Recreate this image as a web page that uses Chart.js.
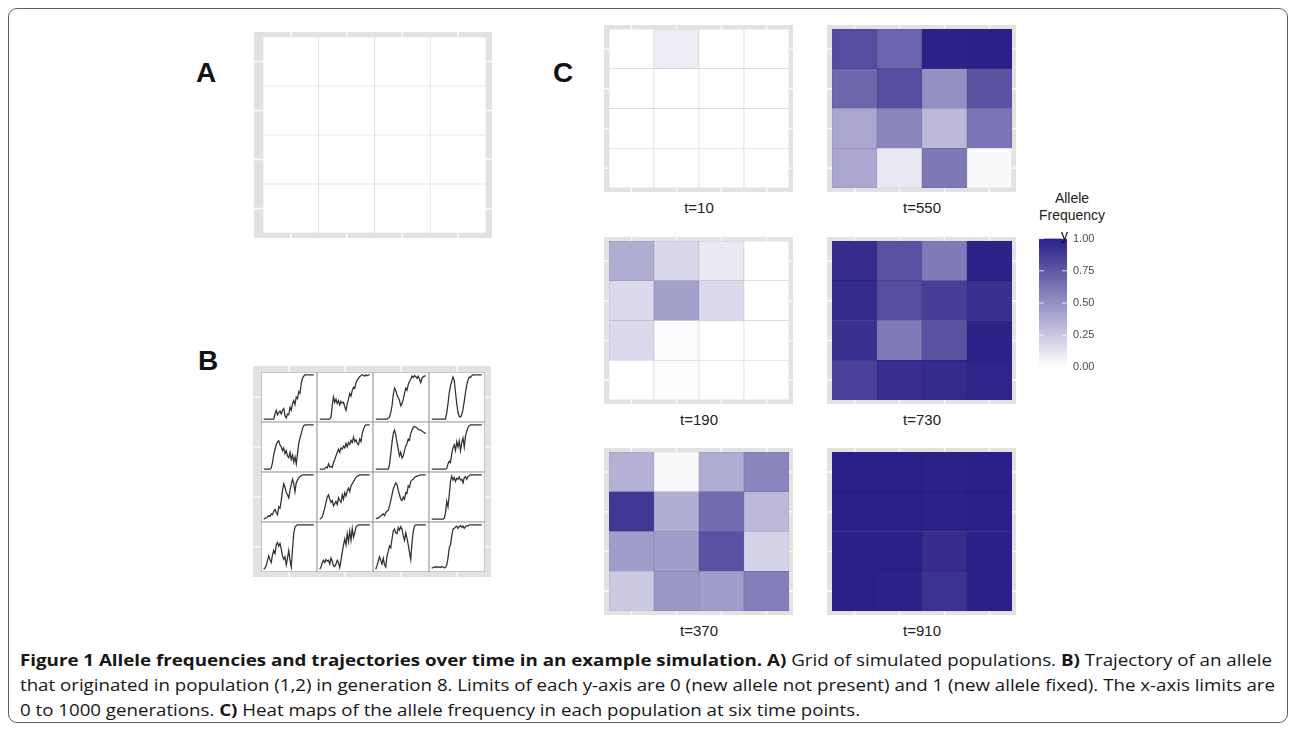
<!DOCTYPE html>
<html>
<head>
<meta charset="utf-8">
<script src="https://cdn.jsdelivr.net/npm/chart.js@4.4.1/dist/chart.umd.min.js"></script>
<style>
  body { margin: 0; width: 1290px; height: 733px; background: #fff; position: relative; overflow: hidden;
         font-family: "Liberation Sans", Arial, sans-serif; }
  .abs { position: absolute; }
  #box { left: 8px; top: 8px; width: 1278px; height: 713px; border: 1px solid #5e5e5e; border-radius: 9px; }
  .panel { font-weight: bold; font-size: 28px; line-height: 28px; color: #111; }
  .tlab { font-size: 15px; line-height: 18px; color: #222; width: 180px; text-align: center; }
  .legtitle { font-size: 14px; line-height: 17px; color: #222; width: 100px; text-align: center; }
  #caption { left: 20px; top: 648px; font-family: "Open Sans", sans-serif; font-size: 16px; line-height: 25px; color: #161616; }
  #caption .ln { display: block; width: max-content; white-space: nowrap; transform-origin: 0 0; }
</style>
</head>
<body>
<div id="box" class="abs"></div>
<div class="abs panel" style="left:196px; top:59px">A</div>
<div class="abs panel" style="left:198px; top:347px">B</div>
<div class="abs panel" style="left:553px; top:59px">C</div>

<div class="abs legtitle" style="left:1022px; top:190px">Allele</div>
<div class="abs legtitle" style="left:1022px; top:207px">Frequency</div>

<div id="caption" class="abs">
  <span class="ln"><b>Figure 1 Allele frequencies and trajectories over time in an example simulation. A)</b> Grid of simulated populations. <b>B)</b> Trajectory of an allele</span>
  <span class="ln">that originated in population (1,2) in generation 8. Limits of each y-axis are 0 (new allele not present) and 1 (new allele fixed). The x-axis limits are</span>
  <span class="ln">0 to 1000 generations. <b>C)</b> Heat maps of the allele frequency in each population at six time points.</span>
</div>

<script>
// grid columns and colour bar breaks
const columns = ['1', '2', '3', '4'];
const legendTicks = [0, 0.25, 0.5, 0.75, 1];

// allele frequency per population, top row first
const freqT10  = [[0, 0.08, 0, 0], [0, 0, 0, 0], [0, 0, 0, 0], [0, 0, 0, 0]];
const freqT190 = [[0.37, 0.18, 0.1, 0], [0.17, 0.43, 0.17, 0], [0.17, 0.02, 0, 0], [0, 0.01, 0, 0]];
const freqT370 = [[0.35, 0.03, 0.37, 0.55], [0.9, 0.36, 0.66, 0.32], [0.44, 0.44, 0.78, 0.2], [0.24, 0.47, 0.44, 0.58]];
const freqT550 = [[0.8, 0.7, 0.99, 1], [0.68, 0.8, 0.5, 0.77], [0.4, 0.55, 0.32, 0.62], [0.4, 0.1, 0.61, 0.03]];
const freqT730 = [[0.95, 0.78, 0.6, 0.99], [0.96, 0.8, 0.87, 0.93], [0.93, 0.6, 0.78, 0.99], [0.85, 0.94, 0.96, 0.98]];
const freqT910 = [[1, 1, 0.99, 1], [1, 1, 0.99, 1], [1, 1, 0.95, 1], [1, 0.99, 0.92, 1]];
const emptyGrid = [[0, 0, 0, 0], [0, 0, 0, 0], [0, 0, 0, 0], [0, 0, 0, 0]];

// generations at which the trajectories of panel B are read
const timePoints = [0, 25, 50, 75, 100, 125, 150, 175, 200, 225, 250, 275, 300, 325, 350, 375, 400, 425, 450, 475,
  500, 525, 550, 575, 600, 625, 650, 675, 700, 725, 750, 775, 800, 825, 850, 875, 900, 925, 950, 975, 1000];

// trajectory of the new allele in each population (panel B), one array per grid row
const trajRow1 = [
  [0,0,0,0,0,0,0,0,0,0.12,0.2,0.1,0.15,0.18,0.12,0.2,0.24,0.08,0.03,0.12,0.1,0.27,0.2,0.35,0.42,0.33,0.5,0.46,0.62,0.58,0.8,0.92,0.97,1,1,1,1,1,1,1,1],
  [0,0,0,0,0,0,0,0,0,0.05,0.3,0.5,0.38,0.45,0.35,0.42,0.32,0.4,0.36,0.38,0.28,0.2,0.35,0.45,0.58,0.52,0.65,0.72,0.7,0.82,0.88,0.92,0.96,0.98,1,0.99,0.97,1,0.98,1,1],
  [0,0,0,0,0,0,0,0,0,0,0.02,0.05,0.15,0.3,0.55,0.7,0.65,0.55,0.48,0.42,0.3,0.35,0.45,0.58,0.7,0.65,0.78,0.85,0.9,0.97,0.94,0.98,0.96,0.92,0.97,0.9,0.82,0.92,0.96,0.97,0.98],
  [0,0,0,0,0,0,0,0,0,0,0,0,0.15,0.35,0.6,0.75,0.85,0.95,0.88,0.6,0.35,0.15,0.06,0.05,0.1,0.22,0.4,0.6,0.78,0.88,0.95,0.94,0.98,1,1,1,1,1,1,1,1]
];
const trajRow2 = [
  [0,0,0,0,0,0,0.03,0.15,0.33,0.45,0.55,0.62,0.64,0.55,0.5,0.42,0.48,0.35,0.42,0.3,0.26,0.38,0.22,0.32,0.16,0.28,0.12,0.35,0.58,0.7,0.8,0.92,0.98,1,1,1,1,1,1,1,1],
  [0,0,0,0,0.01,0.05,0.03,0.12,0.05,0.06,0.04,0.15,0.22,0.3,0.38,0.45,0.38,0.48,0.45,0.52,0.48,0.58,0.5,0.6,0.56,0.65,0.6,0.72,0.62,0.66,0.58,0.55,0.68,0.62,0.8,0.9,0.97,1,1,1,1],
  [0,0,0,0,0,0,0,0,0,0,0,0.1,0.35,0.6,0.8,0.88,0.78,0.6,0.45,0.3,0.38,0.25,0.3,0.42,0.52,0.58,0.68,0.66,0.8,0.88,0.94,0.96,0.95,0.93,0.9,0.88,0.88,0.86,0.84,0.82,0.8],
  [0,0,0,0,0,0,0,0,0,0,0,0,0.02,0.12,0.18,0.15,0.35,0.48,0.55,0.42,0.62,0.5,0.64,0.42,0.6,0.7,0.5,0.75,0.85,0.94,0.98,1,1,1,1,1,1,1,1,1,1]
];
const trajRow3 = [
  [0,0.02,0.03,0.05,0.08,0.06,0.12,0.1,0.18,0.22,0.15,0.1,0.28,0.25,0.42,0.65,0.8,0.72,0.6,0.55,0.48,0.65,0.78,0.9,0.8,0.62,0.82,0.88,0.93,0.96,0.98,1,1,1,1,1,1,1,1,1,1],
  [0,0.02,0.05,0.15,0.25,0.38,0.5,0.55,0.45,0.38,0.42,0.3,0.35,0.4,0.33,0.48,0.42,0.38,0.55,0.45,0.6,0.52,0.64,0.7,0.62,0.75,0.8,0.84,0.9,0.94,0.97,0.98,1,1,1,1,1,1,1,1,1],
  [0.01,0.02,0.03,0.05,0.07,0.1,0.12,0.08,0.15,0.18,0.2,0.3,0.42,0.55,0.68,0.75,0.82,0.78,0.65,0.55,0.45,0.42,0.5,0.45,0.6,0.58,0.75,0.72,0.85,0.88,0.9,0.94,0.96,0.97,0.98,0.99,1,1,1,1,1],
  [0,0,0,0,0,0,0,0,0,0,0.02,0.15,0.4,0.28,0.55,0.85,0.97,0.88,0.94,0.85,0.92,0.9,0.95,0.88,0.9,0.82,0.93,0.96,0.9,0.96,0.98,1,1,1,1,1,1,1,1,1,1]
];
const trajRow4 = [
  [0,0.03,0.08,0.2,0.3,0.22,0.15,0.32,0.42,0.35,0.55,0.6,0.52,0.58,0.45,0.3,0.22,0.28,0.1,0.25,0.42,0.2,0.05,0.45,0.8,0.95,0.98,1,1,1,1,1,1,1,1,1,1,1,1,1,1],
  [0,0.05,0.15,0.2,0.15,0.22,0.18,0.2,0.12,0.25,0.18,0.08,0.06,0.12,0.2,0.15,0.04,0.2,0.38,0.55,0.68,0.55,0.8,0.62,0.86,0.65,0.92,0.72,0.82,0.95,0.98,1,1,1,1,1,1,1,1,1,1],
  [0,0.08,0.18,0.28,0.2,0.12,0.25,0.1,0.05,0.3,0.4,0.52,0.48,0.68,0.86,0.9,0.82,0.8,0.94,0.88,0.96,0.9,0.75,0.65,0.82,0.7,0.55,0.38,0.22,0.6,0.85,0.97,1,1,1,1,1,1,1,1,1],
  [0.02,0.04,0.05,0.04,0.06,0.04,0.05,0.04,0.06,0.05,0.03,0.04,0.1,0.25,0.48,0.55,0.75,0.9,0.92,0.95,0.97,0.92,0.96,0.98,0.94,0.97,0.92,0.96,0.98,0.97,1,1,1,1,1,1,1,1,1,1,1]
];

const heatLow = [255, 255, 255];
const heatHigh = [42, 33, 136];

function heatRgb(v) {
  return heatLow.map((lo, k) => Math.round(lo + (heatHigh[k] - lo) * v));
}
function heatColor(v) {
  const c = heatRgb(v);
  return `rgb(${c[0]}, ${c[1]}, ${c[2]})`;
}
// tile outline: a darker shade of the tile itself
function tileEdge(v) {
  const c = heatRgb(v).map(x => Math.round(x * 0.8));
  return `rgb(${c[0]}, ${c[1]}, ${c[2]})`;
}

// grey ggplot-like panel background with white marks at the cell centres
const framePlugin = {
  id: 'frame',
  beforeDraw(chart) {
    const { ctx, chartArea: a, width, height, scales } = chart;
    ctx.save();
    ctx.fillStyle = '#e2e2e2';
    ctx.fillRect(0, 0, width, height);
    ctx.strokeStyle = '#fafafa';
    ctx.lineWidth = 1.5;
    ctx.beginPath();
    columns.forEach((c, i) => {
      const px = scales.x.getPixelForValue(i);
      ctx.moveTo(px, 0); ctx.lineTo(px, a.top);
      ctx.moveTo(px, a.bottom); ctx.lineTo(px, height);
    });
    for (let k = 0; k < columns.length; k++) {
      const py = scales.y.getPixelForValue(k + 0.5);
      ctx.moveTo(0, py); ctx.lineTo(a.left, py);
      ctx.moveTo(a.right, py); ctx.lineTo(width, py);
    }
    ctx.stroke();
    ctx.restore();
  }
};

function addCanvas(left, top, w, h) {
  const canvas = document.createElement('canvas');
  canvas.width = w;
  canvas.height = h;
  canvas.className = 'abs';
  canvas.style.left = left + 'px';
  canvas.style.top = top + 'px';
  document.body.appendChild(canvas);
  return canvas;
}

// 4x4 tile map drawn as stacked bars, one dataset per grid row
function gridChart(box, margin, rows, borderColor, borderWidth) {
  const canvas = addCanvas(box.x - margin.l, box.y - margin.t, box.w + margin.l + margin.r, box.h + margin.t + margin.b);
  const datasets = rows.slice().reverse().map(row => ({
    data: row.map(() => 1),
    backgroundColor: row.map(heatColor),
    borderColor: borderColor || row.map(tileEdge),
    borderWidth: borderWidth,
    borderSkipped: false,
    barPercentage: 1,
    categoryPercentage: 1
  }));
  return new Chart(canvas, {
    type: 'bar',
    data: { labels: columns, datasets: datasets },
    options: {
      responsive: false,
      animation: false,
      layout: { padding: { left: margin.l, right: margin.r, top: margin.t, bottom: margin.b } },
      scales: {
        x: { stacked: true, display: false },
        y: { stacked: true, display: false, min: 0, max: rows.length }
      },
      plugins: { legend: { display: false }, tooltip: { enabled: false } }
    },
    plugins: [framePlugin]
  });
}

// Panel A: empty grid of populations
gridChart({ x: 263, y: 37, w: 223, h: 196 }, { l: 9, r: 6, t: 5, b: 5 }, emptyGrid, '#d4d4d4', 0.6);

// Panel B: grid frame plus one small line chart per population
const boxB = { x: 261, y: 372, w: 224, h: 200 };
gridChart(boxB, { l: 8, r: 6, t: 6, b: 5 }, emptyGrid, '#929292', 0.85);
const cellW = boxB.w / 4, cellH = boxB.h / 4;
[trajRow1, trajRow2, trajRow3, trajRow4].forEach((row, r) => {
  row.forEach((series, c) => {
    const canvas = addCanvas(Math.round(boxB.x + c * cellW + 1), Math.round(boxB.y + r * cellH + 1),
                             Math.round(cellW - 2), Math.round(cellH - 2));
    new Chart(canvas, {
      type: 'line',
      data: { datasets: [{
        data: series.map((v, i) => ({ x: timePoints[i], y: v })),
        borderColor: '#303030',
        borderWidth: 1.25,
        pointRadius: 0,
        tension: 0
      }] },
      options: {
        responsive: false,
        animation: false,
        scales: {
          x: { type: 'linear', min: -35, max: 1045, display: false },
          y: { min: -0.04, max: 1.04, display: false }
        },
        plugins: { legend: { display: false }, tooltip: { enabled: false } }
      }
    });
  });
});

// Panel C: six heat maps
const heatMaps = [
  { label: 't=10',  values: freqT10,  x: 609, y: 29 },
  { label: 't=550', values: freqT550, x: 832, y: 29 },
  { label: 't=190', values: freqT190, x: 609, y: 241 },
  { label: 't=730', values: freqT730, x: 832, y: 241 },
  { label: 't=370', values: freqT370, x: 609, y: 452 },
  { label: 't=910', values: freqT910, x: 832, y: 452 }
];
heatMaps.forEach(h => {
  gridChart({ x: h.x, y: h.y, w: 180, h: 159 }, { l: 5, r: 4, t: 4, b: 4 }, h.values, null, 0.6);
  const lab = document.createElement('div');
  lab.className = 'abs tlab';
  lab.style.left = h.x + 'px';
  lab.style.top = (h.y + 170) + 'px';
  lab.textContent = h.label;
  document.body.appendChild(lab);
});

// colour bar legend
const barCanvas = addCanvas(1030, 226, 77, 154);
new Chart(barCanvas, {
  type: 'bar',
  data: { labels: [''], datasets: [{
    data: [1],
    barPercentage: 1,
    categoryPercentage: 1,
    backgroundColor: (ctx) => {
      const a = ctx.chart.chartArea;
      if (!a) return heatColor(0.5);
      const g = ctx.chart.ctx.createLinearGradient(0, a.bottom, 0, a.top);
      g.addColorStop(0, heatColor(0));
      g.addColorStop(1, heatColor(1));
      return g;
    }
  }] },
  options: {
    responsive: false,
    animation: false,
    layout: { padding: { left: 9, right: 0, top: 10, bottom: 10 } },
    scales: {
      x: { display: false },
      y: {
        position: 'right', min: 0, max: 1,
        afterFit: (s) => { s.width = 40; },
        afterBuildTicks: (s) => { s.ticks = legendTicks.map(v => ({ value: v })); },
        grid: { display: false, drawTicks: false },
        border: { display: false },
        ticks: { padding: 6, color: '#4d4d4d', font: { family: 'Liberation Sans', size: 11 },
                 callback: (v) => Number(v).toFixed(2) }
      }
    },
    plugins: { legend: { display: false }, tooltip: { enabled: false } }
  },
  plugins: [{
    id: 'barTicks',
    afterDatasetsDraw(chart) {
      const { ctx, chartArea: a, scales } = chart;
      ctx.save();
      ctx.strokeStyle = 'rgba(255,255,255,0.8)';
      ctx.lineWidth = 1;
      ctx.beginPath();
      legendTicks.forEach(v => {
        const py = scales.y.getPixelForValue(v);
        ctx.moveTo(a.left, py); ctx.lineTo(a.left + 5, py);
        ctx.moveTo(a.right - 5, py); ctx.lineTo(a.right, py);
      });
      ctx.stroke();
      ctx.restore();
    }
  }]
});

// stray glyph present in the original legend
const stray = document.createElement('div');
stray.className = 'abs';
stray.style.cssText = 'left:1061px; top:228px; font-size:14px; line-height:14px; color:#111';
stray.textContent = 'y';
document.body.appendChild(stray);

// fit caption lines to the measured widths of the original
const capTargets = [1252, 1255];
let capScale = 1;
document.querySelectorAll('#caption .ln').forEach((ln, i) => {
  const w = ln.getBoundingClientRect().width;
  if (capTargets[i]) capScale = capTargets[i] / w;
  ln.style.transform = `scaleX(${capScale})`;
});
</script>
</body>
</html>
